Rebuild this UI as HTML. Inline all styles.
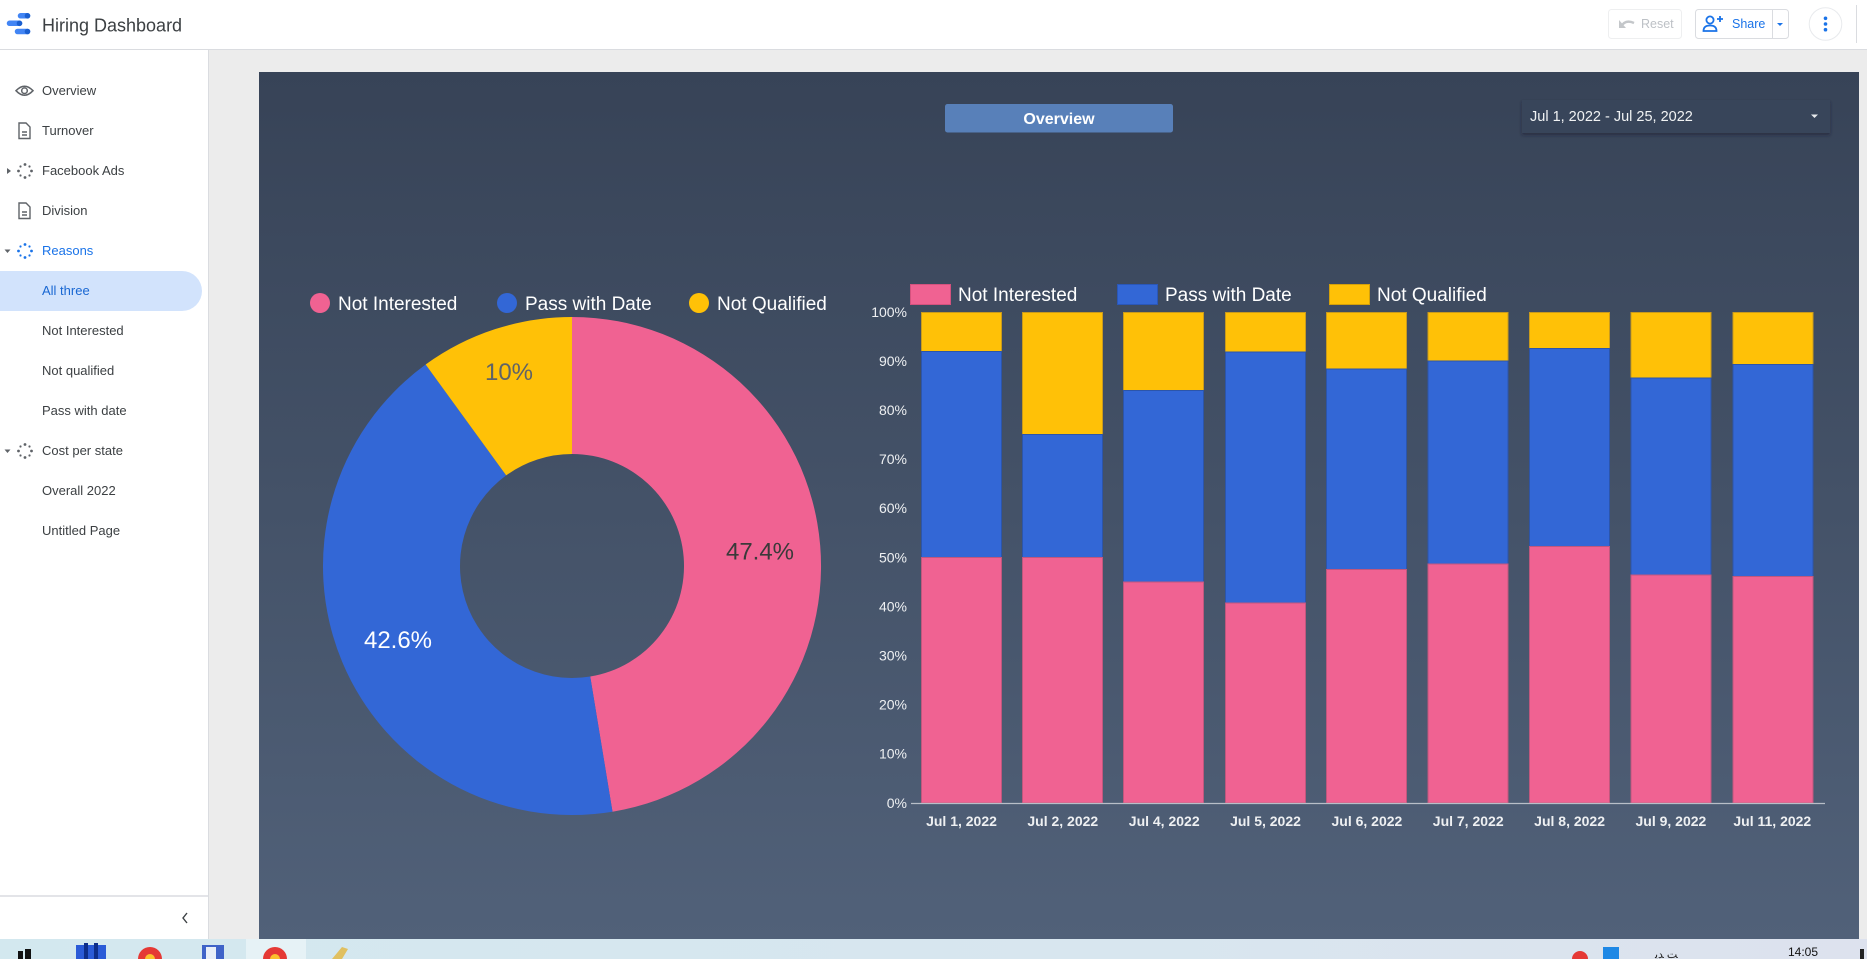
<!DOCTYPE html>
<html>
<head>
<meta charset="utf-8">
<style>
  html,body{margin:0;padding:0;}
  body{width:1867px;height:959px;overflow:hidden;position:relative;background:#ececec;font-family:"Liberation Sans",Arial,sans-serif;}
  .abs{position:absolute;}
  #header{left:0;top:0;width:1867px;height:50px;background:#fff;border-bottom:1px solid #dadce0;box-sizing:border-box;}
  #sidebar{left:0;top:50px;width:208px;height:889px;background:#fff;border-right:1px solid #dadce0;}
  .nav{position:absolute;left:42px;font-size:13px;color:#3c4043;line-height:16px;white-space:nowrap;}
  #panel{left:259px;top:72px;width:1600px;height:867px;background:linear-gradient(#374357,#516179);}
  #taskbar{left:0;top:939px;width:1867px;height:20px;background:linear-gradient(90deg,#d3e8ef,#d8e6ef 60%,#dde2ee);}
</style>
</head>
<body>
<div id="header" class="abs"></div>
<!-- logo -->
<svg class="abs" style="left:0;top:0" width="400" height="50">
  <g stroke-linecap="round" stroke-width="5.5">
    <line x1="20.5" y1="15.8" x2="27.5" y2="15.8" stroke="#4285f4"/>
    <line x1="9.5" y1="23.3" x2="19.5" y2="23.3" stroke="#4285f4"/>
    <line x1="17.5" y1="31.5" x2="27.5" y2="31.5" stroke="#4285f4"/>
  </g>
  <circle cx="27.5" cy="15.8" r="2.8" fill="#1a5fd0"/>
  <circle cx="19.5" cy="23.3" r="2.8" fill="#1a5fd0"/>
  <circle cx="27.5" cy="31.5" r="2.8" fill="#1a5fd0"/>
  <text x="42" y="31.5" font-size="18" fill="#3c4043" font-family="Liberation Sans, sans-serif">Hiring Dashboard</text>
</svg>
<!-- header right -->
<svg class="abs" style="left:1590px;top:0" width="277" height="50">
  <rect x="18.5" y="9.5" width="73" height="29" rx="3" fill="#fff" stroke="#eeeff0"/>
  <path d="M31 27 q4 -8 13 -4" fill="none" stroke="#c4c7ca" stroke-width="2.4"/>
  <path d="M29 20 l0 8 l7 0 z" fill="#c4c7ca"/>
  <text x="51" y="28" font-size="12.5" fill="#bdc1c6">Reset</text>
  <rect x="105.5" y="9.5" width="93" height="29" rx="3" fill="#fff" stroke="#dadce0"/>
  <line x1="182.5" y1="10" x2="182.5" y2="38" stroke="#dadce0"/>
  <circle cx="120" cy="20" r="3.6" fill="none" stroke="#1a73e8" stroke-width="1.8"/>
  <path d="M113.5 31 q0 -5.5 6.5 -5.5 q6.5 0 6.5 5.5 z" fill="none" stroke="#1a73e8" stroke-width="1.8"/>
  <path d="M127 19 h6 M130 16 v6" stroke="#1a73e8" stroke-width="1.8"/>
  <text x="142" y="28" font-size="12.5" fill="#1a73e8">Share</text>
  <path d="M187 23 l6 0 l-3 3 z" fill="#1a73e8"/>
  <circle cx="235.5" cy="24" r="16.3" fill="#fff" stroke="#e8eaed"/>
  <circle cx="235.5" cy="18.3" r="1.8" fill="#1a73e8"/>
  <circle cx="235.5" cy="24" r="1.8" fill="#1a73e8"/>
  <circle cx="235.5" cy="29.7" r="1.8" fill="#1a73e8"/>
  <line x1="266.5" y1="5" x2="266.5" y2="43" stroke="#dadce0"/>
</svg>

<div id="sidebar" class="abs"></div>
<div class="abs" style="left:0;top:271px;width:202px;height:40px;background:#d2e3fc;border-radius:0 20px 20px 0;"></div>
<svg class="abs" style="left:0;top:50px" width="208" height="889">
  <g transform="translate(0,-50)">
  <!-- eye -->
  <path d="M16 90.7 q8.5 -9 17 0 q-8.5 9 -17 0 z" fill="none" stroke="#5f6368" stroke-width="1.5"/>
  <circle cx="24.5" cy="90.7" r="2.8" fill="none" stroke="#5f6368" stroke-width="1.5"/>
  <!-- docs -->
  <g fill="none" stroke="#5f6368" stroke-width="1.4">
    <path d="M19 123 h7 l4 4 v11.5 h-11 z"/><path d="M22 132 h5 M22 135 h5"/>
    <path d="M19 203 h7 l4 4 v11.5 h-11 z"/><path d="M22 212 h5 M22 215 h5"/>
  </g>
  <!-- sparkles -->
  <g fill="#5f6368">
    <circle cx="25" cy="164.5" r="1.4"/><circle cx="25" cy="177.5" r="1.4"/><circle cx="18.5" cy="171" r="1.4"/><circle cx="31.5" cy="171" r="1.4"/>
    <circle cx="20.5" cy="166.5" r="1.1"/><circle cx="29.5" cy="166.5" r="1.1"/><circle cx="20.5" cy="175.5" r="1.1"/><circle cx="29.5" cy="175.5" r="1.1"/>
    <path d="M7 168 l4 3 l-4 3 z"/>
  </g>
  <g fill="#1a73e8">
    <circle cx="25" cy="244.5" r="1.4"/><circle cx="25" cy="257.5" r="1.4"/><circle cx="18.5" cy="251" r="1.4"/><circle cx="31.5" cy="251" r="1.4"/>
    <circle cx="20.5" cy="246.5" r="1.1"/><circle cx="29.5" cy="246.5" r="1.1"/><circle cx="20.5" cy="255.5" r="1.1"/><circle cx="29.5" cy="255.5" r="1.1"/>
    <path d="M4.5 249.5 l6 0 l-3 3.5 z" fill="#5f6368"/>
  </g>
  <g fill="#5f6368">
    <circle cx="25" cy="444.5" r="1.4"/><circle cx="25" cy="457.5" r="1.4"/><circle cx="18.5" cy="451" r="1.4"/><circle cx="31.5" cy="451" r="1.4"/>
    <circle cx="20.5" cy="446.5" r="1.1"/><circle cx="29.5" cy="446.5" r="1.1"/><circle cx="20.5" cy="455.5" r="1.1"/><circle cx="29.5" cy="455.5" r="1.1"/>
    <path d="M4.5 449.5 l6 0 l-3 3.5 z"/>
  </g>
  <line x1="0" y1="896" x2="208" y2="896" stroke="#dadce0" stroke-width="1.5"/>
  <path d="M187 913 l-4 5 l4 5" fill="none" stroke="#3c4043" stroke-width="1.4"/>
  </g>
</svg>
<div class="nav" style="top:83px">Overview</div>
<div class="nav" style="top:123px">Turnover</div>
<div class="nav" style="top:163px">Facebook Ads</div>
<div class="nav" style="top:203px">Division</div>
<div class="nav" style="top:243px;color:#1a73e8">Reasons</div>
<div class="nav" style="top:283px;color:#1967d2">All three</div>
<div class="nav" style="top:323px">Not Interested</div>
<div class="nav" style="top:363px">Not qualified</div>
<div class="nav" style="top:403px">Pass with date</div>
<div class="nav" style="top:443px">Cost per state</div>
<div class="nav" style="top:483px">Overall 2022</div>
<div class="nav" style="top:523px">Untitled Page</div>

<div id="panel" class="abs"></div>

<svg class="abs" style="left:0;top:0" width="1867" height="959" font-family="Liberation Sans, sans-serif">
  <defs>
    <filter id="sh" x="-5%" y="-20%" width="110%" height="160%">
      <feDropShadow dx="0" dy="2" stdDeviation="1.5" flood-color="#1c2330" flood-opacity="0.6"/>
    </filter>
  </defs>
  <!-- Overview button -->
  <rect x="945" y="104" width="228" height="28.5" rx="2.5" fill="#5880b9"/>
  <text x="1059" y="124" font-size="16" font-weight="bold" fill="#fff" text-anchor="middle">Overview</text>
  <!-- date box -->
  <rect x="1522" y="100" width="308" height="33" fill="#38445a" filter="url(#sh)"/>
  <text x="1530" y="121" font-size="14.5" fill="#f1f3f4">Jul 1, 2022 - Jul 25, 2022</text>
  <path d="M1811 114.5 l7 0 l-3.5 3.5 z" fill="#e8eaed"/>

  <!-- Pie legend -->
  <circle cx="320" cy="303" r="10" fill="#f06292"/>
  <text x="338" y="310" font-size="19" fill="#fff">Not Interested</text>
  <circle cx="507" cy="303" r="10" fill="#3367d6"/>
  <text x="525" y="310" font-size="19" fill="#fff">Pass with Date</text>
  <circle cx="699" cy="303" r="10" fill="#ffc107"/>
  <text x="717" y="310" font-size="19" fill="#fff">Not Qualified</text>

  <!-- Pie -->
  <path d="M572,317 A249,249 0 0 1 612.50,811.69 L590.22,676.51 A112,112 0 0 0 572,454 Z" fill="#f06292"/>
  <path d="M612.50,811.69 A249,249 0 0 1 425.64,364.55 L506.17,475.39 A112,112 0 0 0 590.22,676.51 Z" fill="#3367d6"/>
  <path d="M425.64,364.55 A249,249 0 0 1 572,317 L572,454 A112,112 0 0 0 506.17,475.39 Z" fill="#ffc107"/>
  <text x="760" y="559.5" font-size="24" fill="#3a3a3a" text-anchor="middle">47.4%</text>
  <text x="398" y="648" font-size="24" fill="#fff" text-anchor="middle">42.6%</text>
  <text x="509" y="380" font-size="24" fill="#5f6368" text-anchor="middle">10%</text>

  <!-- Bar legend -->
  <rect x="910.5" y="284.5" width="40" height="20" fill="#f06292" stroke="#d4527e"/>
  <text x="958" y="301" font-size="19" fill="#fff">Not Interested</text>
  <rect x="1117.5" y="284.5" width="40" height="20" fill="#3367d6" stroke="#2a57b8"/>
  <text x="1165" y="301" font-size="19" fill="#fff">Pass with Date</text>
  <rect x="1329.5" y="284.5" width="40" height="20" fill="#ffc107" stroke="#d4a00a"/>
  <text x="1377" y="301" font-size="19" fill="#fff">Not Qualified</text>

  <!-- Y axis labels -->
  <g font-size="14" fill="#eef0f2" text-anchor="end">
    <text x="907" y="317">100%</text>
    <text x="907" y="366">90%</text>
    <text x="907" y="415">80%</text>
    <text x="907" y="464">70%</text>
    <text x="907" y="513">60%</text>
    <text x="907" y="562.5">50%</text>
    <text x="907" y="611.5">40%</text>
    <text x="907" y="660.5">30%</text>
    <text x="907" y="709.5">20%</text>
    <text x="907" y="758.5">10%</text>
    <text x="907" y="808">0%</text>
  </g>

  <!-- Bars -->
  <g stroke-width="1">
    <rect x="921.5" y="312.5" width="80" height="39" fill="#ffc107" stroke="#c99a1c"/>
    <rect x="921.5" y="351.5" width="80" height="206" fill="#3367d6" stroke="#2c55aa"/>
    <rect x="921.5" y="557.5" width="80" height="245.5" fill="#f06292" stroke="#c0577d"/>
    <rect x="1022.5" y="312.5" width="80" height="122" fill="#ffc107" stroke="#c99a1c"/>
    <rect x="1022.5" y="434.5" width="80" height="123" fill="#3367d6" stroke="#2c55aa"/>
    <rect x="1022.5" y="557.5" width="80" height="245.5" fill="#f06292" stroke="#c0577d"/>
    <rect x="1123.5" y="312.5" width="80" height="78" fill="#ffc107" stroke="#c99a1c"/>
    <rect x="1123.5" y="390.5" width="80" height="191.5" fill="#3367d6" stroke="#2c55aa"/>
    <rect x="1123.5" y="582" width="80" height="221" fill="#f06292" stroke="#c0577d"/>
    <rect x="1225.5" y="312.5" width="80" height="39.5" fill="#ffc107" stroke="#c99a1c"/>
    <rect x="1225.5" y="352" width="80" height="251" fill="#3367d6" stroke="#2c55aa"/>
    <rect x="1225.5" y="603" width="80" height="200" fill="#f06292" stroke="#c0577d"/>
    <rect x="1326.5" y="312.5" width="80" height="56.5" fill="#ffc107" stroke="#c99a1c"/>
    <rect x="1326.5" y="369" width="80" height="200.5" fill="#3367d6" stroke="#2c55aa"/>
    <rect x="1326.5" y="569.5" width="80" height="233.5" fill="#f06292" stroke="#c0577d"/>
    <rect x="1428" y="312.5" width="80" height="48.5" fill="#ffc107" stroke="#c99a1c"/>
    <rect x="1428" y="361" width="80" height="203" fill="#3367d6" stroke="#2c55aa"/>
    <rect x="1428" y="564" width="80" height="239" fill="#f06292" stroke="#c0577d"/>
    <rect x="1529.5" y="312.5" width="80" height="36" fill="#ffc107" stroke="#c99a1c"/>
    <rect x="1529.5" y="348.5" width="80" height="198" fill="#3367d6" stroke="#2c55aa"/>
    <rect x="1529.5" y="546.5" width="80" height="256.5" fill="#f06292" stroke="#c0577d"/>
    <rect x="1631" y="312.5" width="80" height="65.5" fill="#ffc107" stroke="#c99a1c"/>
    <rect x="1631" y="378" width="80" height="197" fill="#3367d6" stroke="#2c55aa"/>
    <rect x="1631" y="575" width="80" height="228" fill="#f06292" stroke="#c0577d"/>
    <rect x="1733" y="312.5" width="80" height="52" fill="#ffc107" stroke="#c99a1c"/>
    <rect x="1733" y="364.5" width="80" height="212" fill="#3367d6" stroke="#2c55aa"/>
    <rect x="1733" y="576.5" width="80" height="226.5" fill="#f06292" stroke="#c0577d"/>
  </g>
  <line x1="911" y1="803.5" x2="1825" y2="803.5" stroke="#b8bec8" stroke-width="1.2"/>

  <!-- X labels -->
  <g font-size="14" font-weight="bold" fill="#eef0f2" text-anchor="middle">
    <text x="961.5" y="826">Jul 1, 2022</text>
    <text x="1062.8" y="826">Jul 2, 2022</text>
    <text x="1164.2" y="826">Jul 4, 2022</text>
    <text x="1265.5" y="826">Jul 5, 2022</text>
    <text x="1366.9" y="826">Jul 6, 2022</text>
    <text x="1468.2" y="826">Jul 7, 2022</text>
    <text x="1569.6" y="826">Jul 8, 2022</text>
    <text x="1670.9" y="826">Jul 9, 2022</text>
    <text x="1772.3" y="826">Jul 11, 2022</text>
  </g>
</svg>

<div id="taskbar" class="abs"></div>
<svg class="abs" style="left:0;top:939px" width="1867" height="20">
  <rect x="246" y="0" width="60" height="20" fill="#e6f2f6"/>
  <rect x="18" y="12" width="5" height="8" fill="#111"/><rect x="25" y="10" width="6" height="10" fill="#111"/>
  <rect x="76" y="6" width="30" height="14" fill="#2a5bd7"/><rect x="84" y="4" width="4" height="16" fill="#0d2e8a"/><rect x="94" y="4" width="4" height="16" fill="#0d2e8a"/>
  <circle cx="150" cy="20" r="12" fill="#e53935"/><circle cx="150" cy="20" r="5" fill="#fbc02d"/>
  <rect x="202" y="6" width="22" height="14" fill="#3f63c8"/><rect x="206" y="8" width="10" height="12" fill="#e8eef8"/>
  <circle cx="275" cy="20" r="12" fill="#e53935"/><circle cx="275" cy="20" r="5" fill="#fbc02d"/>
  <path d="M332 20 l10 -12 l6 2 l-6 10 z" fill="#e0c060"/>
  <circle cx="1580" cy="20" r="8" fill="#e53935"/>
  <rect x="1603" y="8" width="16" height="12" fill="#1e88e5"/>
  <text x="1655" y="19" font-size="11" fill="#222">ﺖ ﺪﯾ</text>
  <text x="1788" y="17" font-size="12" fill="#111">14:05</text>
  <rect x="1860" y="10" width="4" height="10" fill="#222"/>
</svg>
</body>
</html>
